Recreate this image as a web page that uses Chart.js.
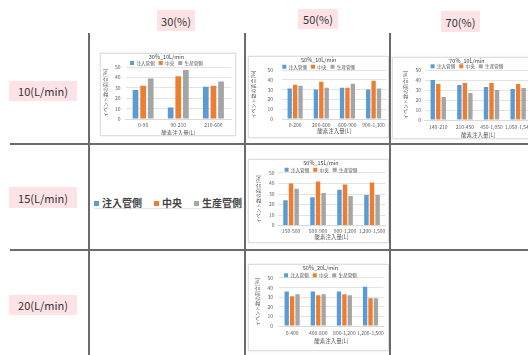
<!DOCTYPE html>
<html>
<head>
<meta charset="utf-8">
<script src="https://cdn.jsdelivr.net/npm/chart.js@4.4.1/dist/chart.umd.min.js"></script>
<style>
  html, body { margin: 0; padding: 0; }
  body { width: 528px; height: 355px; overflow: hidden; position: relative; background: #fff;
         font-family: "Noto Sans CJK JP", "Noto Sans", sans-serif; }
  .vline { position: absolute; width: 2px; background: #6b6b6b; }
  .hline { position: absolute; height: 2px; background: #6b6b6b; }
  .tag { position: absolute; background: #fde3e6; color: #333; font-size: 11px;
         display: flex; align-items: center; justify-content: center; }
  .frame { position: absolute; background: #fff; border: 1px solid #dedede;
           box-shadow: 0 0 2px rgba(0,0,0,0.12); }
  .frame canvas { position: absolute; left: 0; top: 0; }
  #bigLegend { position: absolute; left: 94px; top: 198px; height: 10px; line-height: 10px; font-size: 10px;
               font-weight: bold; color: #444; white-space: nowrap; border-bottom: 1px solid #e4e4e4; width: 147px; }
  #bigLegend span.sw { display: inline-block; width: 5px; height: 5px; margin-right: 3px; vertical-align: 1px; }
  #bigLegend span.item { margin-right: 12px; }
</style>
</head>
<body>
<!-- table rules -->
<div class="vline" style="left:88px; top:33px; height:322px;"></div>
<div class="vline" style="left:244px; top:33px; height:322px;"></div>
<div class="vline" style="left:389px; top:33px; height:322px;"></div>
<div class="hline" style="left:10px; top:143px; width:518px;"></div>
<div class="hline" style="left:10px; top:249px; width:518px;"></div>

<!-- column / row headers -->
<div class="tag" style="left:157px; top:10px; width:38px; height:21px;">30(%)</div>
<div class="tag" style="left:298px; top:9px; width:40px; height:20px;">50(%)</div>
<div class="tag" style="left:441px; top:11px; width:39px; height:21px;">70(%)</div>
<div class="tag" style="left:9px; top:81px; width:68px; height:20px;">10(L/min)</div>
<div class="tag" style="left:9px; top:187px; width:68px; height:21px;">15(L/min)</div>
<div class="tag" style="left:9px; top:295px; width:68px; height:20px;">20(L/min)</div>

<div id="bigLegend"></div>

<script>
// Series names and colours shared by every panel
const seriesNames = ['注入管側', '中央', '生産管側'];
const seriesColors = ['#5b9bd5', '#ed7d31', '#a5a5a5'];
const xAxisTitle = '酸素注入量[L]';
const yAxisTitle = 'イベント数の割合[%]';
const yTickValues = [0, 10, 20, 30, 40, 50];

// 30% / 10 L/min
const cats30_10 = ['0-90', '90-210', '210-600'];
const inj30_10  = [28, 11, 31];
const mid30_10  = [32, 41, 32];
const prod30_10 = [39, 47, 36];

// 50% / 10 L/min
const cats50_10 = ['0-200', '200-600', '600-900', '900-1,300'];
const inj50_10  = [31, 30, 32, 30];
const mid50_10  = [35, 38, 32, 39];
const prod50_10 = [34, 32, 36, 31];

// 70% / 10 L/min
const cats70_10 = ['140-210', '210-450', '450-1,050', '1,050-1,540'];
const inj70_10  = [40, 35, 33, 31];
const mid70_10  = [36, 37, 37, 36];
const prod70_10 = [23, 27, 30, 32];

// 50% / 15 L/min
const cats50_15 = ['150-500', '500-900', '900-1,200', '1,200-1,500'];
const inj50_15  = [24, 27, 34, 29];
const mid50_15  = [40, 42, 39, 41];
const prod50_15 = [35, 31, 28, 29];

// 50% / 20 L/min
const cats50_20 = ['0-400', '400-800', '800-1,200', '1,200-1,500'];
const inj50_20  = [36, 36, 36, 41];
const mid50_20  = [31, 32, 33, 29];
const prod50_20 = [33, 33, 32, 29];

const FONT = '"Noto Sans CJK JP", "Noto Sans", sans-serif';
const TXT = '#595959';

// large legend shown in the empty 30% / 15 L/min cell
const big = document.getElementById('bigLegend');
seriesNames.forEach((n, i) => {
  const it = document.createElement('span');
  it.className = 'item';
  it.innerHTML = '<span class="sw" style="background:' + seriesColors[i] + '"></span>' + n;
  big.appendChild(it);
});

// Placement of each panel on the page (page pixels):
// canvas box, then the rows where title, legend, plot, tick labels and axis title sit.
function panel(title, cats, series, L) {
  const ct = L.titleY - 4;                       // canvas top
  const frame = document.createElement('div');
  frame.className = 'frame';
  frame.style.left = (L.cl - 1) + 'px';
  frame.style.top = (ct - 1) + 'px';
  frame.style.width = (L.cr - L.cl) + 'px';
  frame.style.height = (L.cb - ct) + 'px';
  const cv = document.createElement('canvas');
  cv.width = L.cr - L.cl;
  cv.height = L.cb - ct;
  frame.appendChild(cv);
  document.body.appendChild(frame);

  // legend row centre = legend top + 4 (label padding) + 2.5 (half item height)
  const titleLH = 5.5 * 1.1;
  const legendTop = L.legendY - 6.5;
  const titleGap = legendTop - (ct + titleLH);   // title bottom padding
  const legendH = L.plotTop - legendTop;
  const tickPad = L.tickY - L.plotBottom - 3;
  const xtPad = L.xTitleY - L.tickY - 8.3;
  const padB = L.cb - (L.xTitleY + 3.3) - 1;

  new Chart(cv, {
    type: 'bar',
    data: {
      labels: cats,
      datasets: series.map((vals, i) => ({
        label: seriesNames[i],
        data: vals,
        backgroundColor: seriesColors[i],
        borderWidth: 0,
        categoryPercentage: L.cat || 0.62,
        barPercentage: L.bar || 0.8
      }))
    },
    options: {
      responsive: false,
      animation: false,
      devicePixelRatio: 1,
      layout: { padding: { left: L.padL, right: L.padR, top: 0, bottom: padB } },
      plugins: {
        title: { display: true, text: title, color: '#404040',
                 font: { family: FONT, size: 5.5, weight: 'normal', lineHeight: 1.1 },
                 padding: { top: 0, bottom: titleGap } },
        legend: { display: true, position: 'top', maxHeight: legendH,
                  labels: { boxWidth: 4, boxHeight: 4, padding: 4, color: TXT,
                            font: { family: FONT, size: 4.6 } } },
        tooltip: { enabled: false }
      },
      scales: {
        x: {
          grid: { display: false, drawTicks: false, tickLength: 0 },
          border: { color: '#d9d9d9' },
          ticks: { color: TXT, font: { family: FONT, size: 5 }, maxRotation: 0, autoSkip: false, padding: tickPad },
          title: { display: true, text: xAxisTitle, color: TXT, font: { family: FONT, size: 5.5 },
                   padding: { top: xtPad, bottom: 0 } }
        },
        y: {
          min: yTickValues[0], max: yTickValues[yTickValues.length - 1],
          grid: { color: '#e3e3e3', drawTicks: false, tickLength: 0 },
          border: { display: false },
          ticks: { stepSize: yTickValues[1] - yTickValues[0], autoSkip: false, color: TXT,
                   font: { family: FONT, size: 5 }, padding: L.tickPadY },
          title: { display: true, text: yAxisTitle, color: TXT, font: { family: FONT, size: 5, lineHeight: 1.2 },
                   padding: { top: 0, bottom: L.ytGap } }
        }
      }
    }
  });
}

panel('30%_10L/min', cats30_10, [inj30_10, mid30_10, prod30_10],
  { cl: 101, cr: 235, cb: 135, titleY: 58, legendY: 63.3, plotTop: 67, plotBottom: 119, tickY: 125, xTitleY: 132,
    padL: 1, padR: 4, ytGap: 2, tickPadY: 5, cat: 0.65, bar: 0.75 });
panel('50%_10L/min', cats50_10, [inj50_10, mid50_10, prod50_10],
  { cl: 249, cr: 388, cb: 137, titleY: 61, legendY: 67, plotTop: 70, plotBottom: 119, tickY: 125, xTitleY: 130,
    padL: 1.5, padR: 1, ytGap: 2, tickPadY: 9 });
panel('70%_10L/min', cats70_10, [inj70_10, mid70_10, prod70_10],
  { cl: 393, cr: 536, cb: 138, titleY: 62, legendY: 66.5, plotTop: 70, plotBottom: 121, tickY: 128, xTitleY: 134,
    padL: 9, padR: 4, ytGap: 3.4, tickPadY: 4 });
panel('50%_15L/min', cats50_15, [inj50_15, mid50_15, prod50_15],
  { cl: 249, cr: 388, cb: 242, titleY: 164, legendY: 170, plotTop: 173, plotBottom: 225, tickY: 230.5, xTitleY: 235.5,
    padL: 6, padR: 1, ytGap: 5, tickPadY: 3 });
panel('50%_20L/min', cats50_20, [inj50_20, mid50_20, prod50_20],
  { cl: 249, cr: 388, cb: 350, titleY: 269, legendY: 275.5, plotTop: 278, plotBottom: 327, tickY: 334, xTitleY: 340,
    padL: 5, padR: 1, ytGap: 1.5, tickPadY: 6 });
</script>
</body>
</html>
